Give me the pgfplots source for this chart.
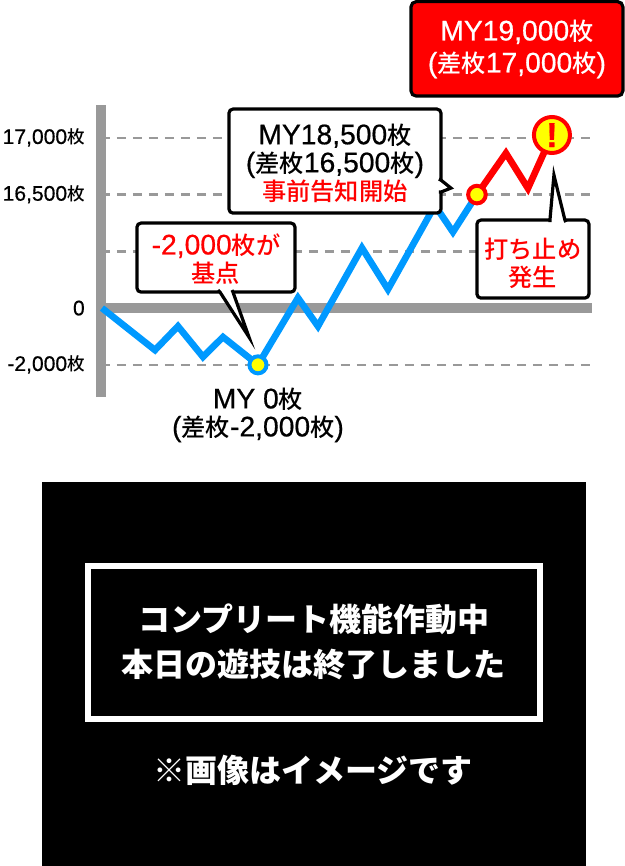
\documentclass[border=0pt]{standalone}
\usepackage{fontspec}
\setmainfont{Noto Sans CJK JP}
\newfontfamily\jpmed{Noto Sans CJK JP Medium}
\newfontfamily\jpblack{Noto Sans CJK JP Black}
\newfontfamily\latfont[FakeBold=0.6]{Liberation Sans}
\usepackage{pgfplots}
\pgfplotsset{compat=1.18}
\definecolor{barblue}{RGB}{0,153,255}
\definecolor{axgray}{RGB}{153,153,153}
\definecolor{markyellow}{RGB}{255,255,0}
\definecolor{alertred}{RGB}{255,0,0}
% 1px of the reference = 0.75pt
\newcommand{\calloutfont}{\jpmed\fontsize{18.2}{21}\selectfont}
\newcommand{\panelfont}{\jpblack\fontsize{24}{33.5}\selectfont}
% latin runs are set larger than the kana/kanji around them
\newcommand{\lat}[1]{{\latfont\fontsize{21.2}{21}\selectfont #1}}
\newcommand{\latsmall}[1]{{\latfont\fontsize{15.8}{15}\selectfont #1}}
\tikzset{box/.style={fill=white,draw=black,line width=2.4pt,rounded corners=3pt},
         tail/.style={fill=white,draw=black,line width=2.4pt,miter limit=20}}
\begin{document}
\begin{tikzpicture}
% y is the level of the dashed lines: -1 = -2,000, 0 = 0, 2 = 16,500, 3 = 17,000
\begin{axis}[
    at={(75.75pt,-297.75pt)},
    anchor=south west,
    scale only axis,
    width=368.25pt,
    height=219pt,
    xmin=101,xmax=592,
    ymin=-1.568,ymax=3.577,
    clip=false,
    set layers,
    axis x line=middle,
    axis y line=left,
    axis line style={draw=axgray,line width=7.5pt,-},
    xtick=\empty,
    ytick={-1,0,1,2,3},
    yticklabels={{\latsmall{-2,000}枚},{\latsmall{0}},{},{\latsmall{16,500}枚},{\latsmall{17,000}枚}},
    major tick length=0pt,
    ymajorgrids,
    major grid style={draw=axgray,line width=1.9pt,dash pattern=on 7pt off 5pt},
    yticklabel style={font=\jpmed\fontsize{13.2}{15}\selectfont,inner sep=0pt,xshift=-12pt,text=black},
]
\addplot[barblue,line width=5pt,miter limit=4] coordinates {
    (102,0)(155,-0.74)(178,-0.32)(203,-0.86)(223,-0.51)(258,-1)
    (298,0.18)(318,-0.32)(362,1.06)(388,0.33)(435,1.81)(453,1.34)(477,2)
};
\addplot[alertred,line width=5pt] coordinates {
    (477,2)(506,2.73)(528,2.11)(552,3.05)
};
\addplot[only marks,mark=*,mark size=6.4pt,mark options={draw=barblue,fill=markyellow,line width=3pt}] coordinates {(258,-1)};
\addplot[only marks,mark=*,mark size=6.6pt,mark options={draw=alertred,fill=markyellow,line width=3pt}] coordinates {(477,2)};
\addplot[only marks,mark=*,mark size=13.5pt,mark options={draw=alertred,fill=markyellow,line width=3pt}] coordinates {(552,3.05)};
\end{axis}
\begin{scope}[x=0.75pt,y=-0.75pt]
\node[text=alertred,font=\latfont\bfseries\fontsize{26}{26}\selectfont,inner sep=0pt] at (552,135) {!};
% callouts
\draw[box] (137,223) rectangle (295,292);
\draw[tail] (232,290) -- (233,292) -- (249,337) -- (220,292) -- (218,290);
\node[align=center,font=\calloutfont,text=alertred,inner sep=0pt] at (216,259) {\lat{-2,000}枚が\\基点};
\draw[box] (229,109) rectangle (441,213);
\draw[tail] (439,179) -- (441,180) -- (451,188) -- (441,192) -- (439,192);
\node[align=center,font=\calloutfont,inner sep=0pt] at (335,163) {\lat{MY18,500}枚\\\lat{(}差枚\lat{16,500}枚\lat{)}\\\textcolor{alertred}{事前告知開始}};
\draw[box] (477,220) rectangle (589,298);
\draw[tail] (550,222) -- (550,220) -- (554,175) -- (565,220) -- (566,222);
\node[align=center,font=\calloutfont,text=alertred,inner sep=0pt] at (533,263) {打ち止め\\発生};
\draw[fill=alertred,draw=black,line width=2.4pt,rounded corners=4pt]
    (411,1.5) rectangle (623,96);
\node[align=center,font=\jpmed\fontsize{18.2}{24}\selectfont,text=white,inner sep=0pt] at (517,49) {\lat{MY19,000}枚\\\lat{(}差枚\lat{17,000}枚\lat{)}};
\node[align=center,font=\calloutfont,inner sep=0pt] at (258,415) {\lat{MY 0}枚\\\lat{(}差枚\lat{-2,000}枚\lat{)}};
% black panel
\fill[black] (42,482) rectangle (586,866);
\draw[white,line width=4.5pt] (88,566) rectangle (540,719);
\node[align=center,font=\panelfont,text=white,inner sep=0pt] at (314,642) {コンプリート機能作動中\\本日の遊技は終了しました};
\node[font=\panelfont,text=white,inner sep=0pt] at (313,770) {※画像はイメージです};
\path (0,0) rectangle (625,866);
\end{scope}
\end{tikzpicture}
\end{document}
